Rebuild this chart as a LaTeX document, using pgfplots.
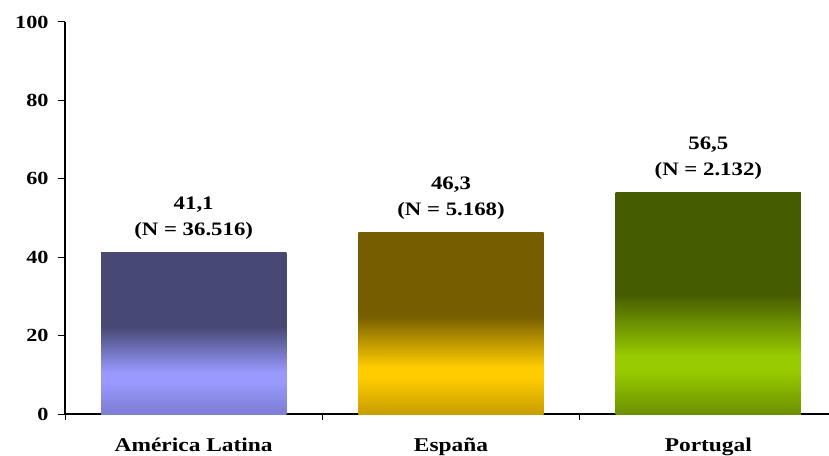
\documentclass[border=0pt]{standalone}
\usepackage{pgfplots}
\pgfplotsset{compat=1.18}
\usepackage{fontspec}
\setmainfont{Liberation Serif}[FakeStretch=1.2]

\definecolor{laD}{RGB}{71,73,116}
\definecolor{laL}{RGB}{153,153,255}
\definecolor{laB}{RGB}{125,125,210}
\definecolor{esD}{RGB}{118,93,0}
\definecolor{esL}{RGB}{255,204,0}
\definecolor{esB}{RGB}{200,158,0}
\definecolor{ptD}{RGB}{70,92,0}
\definecolor{ptL}{RGB}{153,204,0}
\definecolor{ptB}{RGB}{108,145,0}

\pgfdeclareverticalshading{shla}{100bp}{color(0bp)=(laB); color(25bp)=(laB); color(35bp)=(laL); color(38bp)=(laL); color(52bp)=(laD); color(100bp)=(laD)}
\pgfdeclareverticalshading{shes}{100bp}{color(0bp)=(esB); color(25bp)=(esB); color(35bp)=(esL); color(38bp)=(esL); color(52bp)=(esD); color(100bp)=(esD)}
\pgfdeclareverticalshading{shpt}{100bp}{color(0bp)=(ptB); color(25bp)=(ptB); color(35bp)=(ptL); color(38bp)=(ptL); color(52bp)=(ptD); color(100bp)=(ptD)}

\begin{document}
\begin{tikzpicture}
\begin{axis}[
  scale only axis, width=772pt, height=392pt,
  at={(0pt,0pt)}, anchor=south west,
  xmin=-0.5, xmax=2.5, ymin=0, ymax=100,
  axis lines*=left,
  axis line style={-, line width=1.6pt},
  font=\bfseries,
  /pgf/number format/assume math mode=true,
  ytick={0,20,...,100},
  tick align=outside,
  major tick length=7pt,
  minor tick length=6pt,
  tick style={line width=1pt, black},
  yticklabel style={font=\fontsize{18.5}{20}\selectfont\bfseries, xshift=-6pt},
  xtick={0,1,2},
  xticklabels={América Latina, España, Portugal},
  major x tick style={draw=none},
  minor xtick={-0.5,0.5,1.5,2.5},
  xticklabel style={font=\fontsize{19.5}{22}\selectfont\bfseries, anchor=base, yshift=-30.7pt},
  bar width=0.72, bar shift=0pt,
  nodes near coords style={font=\fontsize{19}{26}\selectfont\bfseries, align=center, anchor=south, inner sep=0pt, yshift=13pt},
]
\addplot[ybar, draw=none, shade, shading=shla,
  nodes near coords={41,1\\(N = 36.516)}] coordinates {(0,41.1)};
\addplot[ybar, draw=none, shade, shading=shes,
  nodes near coords={46,3\\(N = 5.168)}] coordinates {(1,46.3)};
\addplot[ybar, draw=none, shade, shading=shpt,
  nodes near coords={56,5\\(N = 2.132)}] coordinates {(2,56.5)};
\end{axis}
\pgfresetboundingbox
\path[use as bounding box] (-65pt,-41pt) rectangle (764pt,414pt);
\end{tikzpicture}
\end{document}
